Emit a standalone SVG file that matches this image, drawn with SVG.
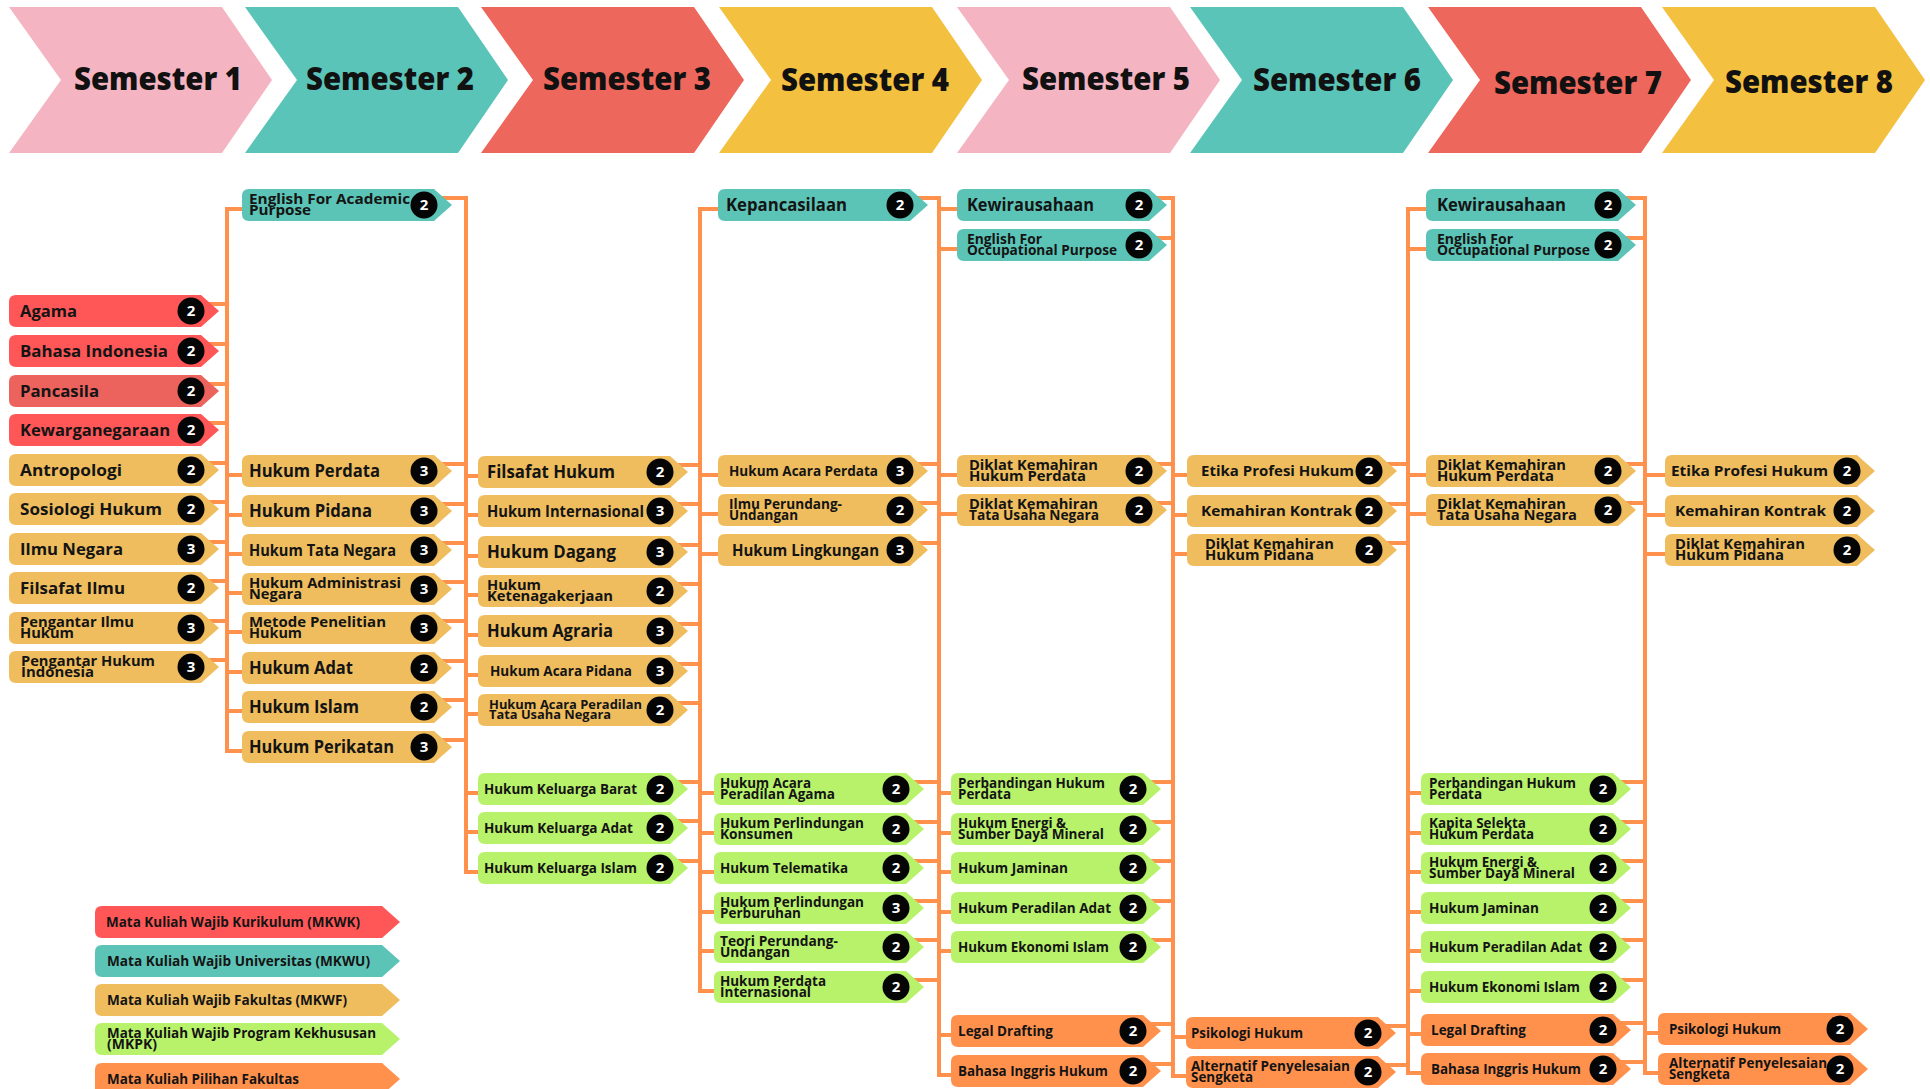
<svg xmlns="http://www.w3.org/2000/svg" width="1930" height="1089" viewBox="0 0 1930 1089">
<style>
.pink{fill:#F4B4C1}.teal{fill:#5BC4B8}.coral{fill:#EE675C}.gold{fill:#F3C03F}
.mkwk{fill:#FF5757}.mkwk2{fill:#EC625D}.mkwu{fill:#5CC4B6}.mkwf{fill:#EFBD5E}.mkpk{fill:#B8F26B}.pil{fill:#FF914D}
.t{font-family:'Open Sans','Liberation Sans',sans-serif;font-weight:700;fill:#141414}
.h{font-family:'Open Sans','Liberation Sans',sans-serif;font-weight:800;font-size:31px;fill:#111}
.bd{fill:#050505}
.bn{font-family:'Open Sans','Liberation Sans',sans-serif;font-weight:700;font-size:15px;fill:#fff;text-anchor:middle}
.c{fill:none;stroke:#FF914D;stroke-width:4;stroke-linecap:square}
</style>
<defs>
<path id="nd" d="M7,0H192L210,16L192,32H7Q0,32 0,25V7Q0,0 7,0Z"/>
<path id="lg" d="M7,0H287L305,16L287,32H7Q0,32 0,25V7Q0,0 7,0Z"/>
</defs>
<rect width="1930" height="1089" fill="#fff"/>

<g id="header">
<g id="sem1"><path class="pink" d="M9,7H222L272,80L222,153H9L61,80Z"/><text class="h" x="74" y="90" textLength="168" lengthAdjust="spacingAndGlyphs">Semester 1</text></g>
<g id="sem2"><path class="teal" d="M245,7H458L508,80L458,153H245L297,80Z"/><text class="h" x="306" y="90" textLength="168" lengthAdjust="spacingAndGlyphs">Semester 2</text></g>
<g id="sem3"><path class="coral" d="M481,7H694L744,80L694,153H481L533,80Z"/><text class="h" x="543" y="90" textLength="168" lengthAdjust="spacingAndGlyphs">Semester 3</text></g>
<g id="sem4"><path class="gold" d="M719,7H932L982,80L932,153H719L771,80Z"/><text class="h" x="781" y="91" textLength="168" lengthAdjust="spacingAndGlyphs">Semester 4</text></g>
<g id="sem5"><path class="pink" d="M957,7H1170L1220,80L1170,153H957L1009,80Z"/><text class="h" x="1022" y="90" textLength="168" lengthAdjust="spacingAndGlyphs">Semester 5</text></g>
<g id="sem6"><path class="teal" d="M1190,7H1403L1453,80L1403,153H1190L1242,80Z"/><text class="h" x="1253" y="91" textLength="168" lengthAdjust="spacingAndGlyphs">Semester 6</text></g>
<g id="sem7"><path class="coral" d="M1428,7H1641L1691,80L1641,153H1428L1480,80Z"/><text class="h" x="1494" y="94" textLength="168" lengthAdjust="spacingAndGlyphs">Semester 7</text></g>
<g id="sem8"><path class="gold" d="M1662,7H1875L1925,80L1875,153H1662L1714,80Z"/><text class="h" x="1725" y="93" textLength="168" lengthAdjust="spacingAndGlyphs">Semester 8</text></g>
</g>

<g id="connectors">
<path class="c" d="M227,209V751 M211,304H227 M211,344H227 M211,384H227 M211,423H227 M211,463H227 M211,502H227 M211,542H227 M211,581H227 M211,621H227 M211,660H227 M227,209H245 M227,475H245 M227,515H245 M227,554H245 M227,593H245 M227,632H245 M227,672H245 M227,711H245 M227,751H245"/>
<path class="c" d="M466,198V872 M444,198H466 M444,464H466 M444,504H466 M444,543H466 M444,582H466 M444,621H466 M444,661H466 M444,700H466 M444,740H466 M466,476H481 M466,515H481 M466,556H481 M466,595H481 M466,635H481 M466,675H481 M466,714H481 M466,793H481 M466,832H481 M466,872H481"/>
<path class="c" d="M700,209V991 M680,465H700 M680,504H700 M680,545H700 M680,584H700 M680,624H700 M680,664H700 M680,703H700 M680,782H700 M680,821H700 M680,861H700 M700,209H721 M700,475H721 M700,514H721 M700,554H721 M700,793H717 M700,833H717 M700,872H717 M700,912H717 M700,951H717 M700,991H717"/>
<path class="c" d="M939,198V1075 M920,198H939 M920,464H939 M920,503H939 M920,543H939 M916,782H939 M916,822H939 M916,861H939 M916,901H939 M916,940H939 M916,980H939 M939,209H960 M939,249H960 M939,475H960 M939,514H960 M939,793H954 M939,833H954 M939,872H954 M939,912H954 M939,951H954 M939,1035H954 M939,1075H954"/>
<path class="c" d="M1173,198V1076 M1159,198H1173 M1159,238H1173 M1159,464H1173 M1159,503H1173 M1153,782H1173 M1153,822H1173 M1153,861H1173 M1153,901H1173 M1153,940H1173 M1153,1024H1173 M1153,1064H1173 M1173,475H1190 M1173,515H1190 M1173,554H1190 M1173,1037H1189 M1173,1076H1189"/>
<path class="c" d="M1408,209V1073 M1389,464H1408 M1389,504H1408 M1389,543H1408 M1388,1026H1408 M1388,1065H1408 M1408,209H1429 M1408,249H1429 M1408,475H1429 M1408,514H1429 M1408,793H1424 M1408,833H1424 M1408,872H1424 M1408,912H1424 M1408,951H1424 M1408,991H1424 M1408,1034H1424 M1408,1073H1424"/>
<path class="c" d="M1645,198V1073 M1628,198H1645 M1628,238H1645 M1628,464H1645 M1628,503H1645 M1623,782H1645 M1623,822H1645 M1623,861H1645 M1623,901H1645 M1623,940H1645 M1623,980H1645 M1623,1023H1645 M1623,1062H1645 M1645,475H1668 M1645,515H1668 M1645,554H1668 M1645,1033H1661 M1645,1073H1661"/>
</g>

<g id="semester1">
<g id="s1-agama"><use href="#nd" x="9" y="295" class="mkwk"/><text class="t" x="20" y="317" font-size="16.5" textLength="57" lengthAdjust="spacingAndGlyphs">Agama</text><circle class="bd" cx="191" cy="311" r="13.5"/><text class="bn" x="191" y="316">2</text></g>
<g id="s1-bahasa-indonesia"><use href="#nd" x="9" y="335" class="mkwk"/><text class="t" x="20" y="357" font-size="16.5" textLength="148" lengthAdjust="spacingAndGlyphs">Bahasa Indonesia</text><circle class="bd" cx="191" cy="351" r="13.5"/><text class="bn" x="191" y="356">2</text></g>
<g id="s1-pancasila"><use href="#nd" x="9" y="375" class="mkwk2"/><text class="t" x="20" y="397" font-size="16.5" textLength="79" lengthAdjust="spacingAndGlyphs">Pancasila</text><circle class="bd" cx="191" cy="391" r="13.5"/><text class="bn" x="191" y="396">2</text></g>
<g id="s1-kewarganegaraan"><use href="#nd" x="9" y="414" class="mkwk"/><text class="t" x="20" y="436" font-size="16.5" textLength="150" lengthAdjust="spacingAndGlyphs">Kewarganegaraan</text><circle class="bd" cx="191" cy="430" r="13.5"/><text class="bn" x="191" y="435">2</text></g>
<g id="s1-antropologi"><use href="#nd" x="9" y="454" class="mkwf"/><text class="t" x="20" y="476" font-size="16.5" textLength="102" lengthAdjust="spacingAndGlyphs">Antropologi</text><circle class="bd" cx="191" cy="470" r="13.5"/><text class="bn" x="191" y="475">2</text></g>
<g id="s1-sosiologi-hukum"><use href="#nd" x="9" y="493" class="mkwf"/><text class="t" x="20" y="515" font-size="16.5" textLength="142" lengthAdjust="spacingAndGlyphs">Sosiologi Hukum</text><circle class="bd" cx="191" cy="509" r="13.5"/><text class="bn" x="191" y="514">2</text></g>
<g id="s1-ilmu-negara"><use href="#nd" x="9" y="533" class="mkwf"/><text class="t" x="20" y="555" font-size="16.5" textLength="103" lengthAdjust="spacingAndGlyphs">Ilmu Negara</text><circle class="bd" cx="191" cy="549" r="13.5"/><text class="bn" x="191" y="554">3</text></g>
<g id="s1-filsafat-ilmu"><use href="#nd" x="9" y="572" class="mkwf"/><text class="t" x="20" y="594" font-size="16.5" textLength="105" lengthAdjust="spacingAndGlyphs">Filsafat Ilmu</text><circle class="bd" cx="191" cy="588" r="13.5"/><text class="bn" x="191" y="593">2</text></g>
<g id="s1-pengantar-ilmu-hukum"><use href="#nd" x="9" y="612" class="mkwf"/><text class="t" font-size="15"><tspan x="20" y="627" textLength="114" lengthAdjust="spacingAndGlyphs">Pengantar Ilmu</tspan><tspan x="20" y="638" textLength="54" lengthAdjust="spacingAndGlyphs">Hukum</tspan></text><circle class="bd" cx="191" cy="628" r="13.5"/><text class="bn" x="191" y="633">3</text></g>
<g id="s1-pengantar-hukum-indonesia"><use href="#nd" x="9" y="651" class="mkwf"/><text class="t" font-size="15"><tspan x="21" y="666" textLength="134" lengthAdjust="spacingAndGlyphs">Pengantar Hukum</tspan><tspan x="21" y="677" textLength="73" lengthAdjust="spacingAndGlyphs">Indonesia</tspan></text><circle class="bd" cx="191" cy="667" r="13.5"/><text class="bn" x="191" y="672">3</text></g>
</g>

<g id="semester2">
<g id="s2-english-academic"><use href="#nd" x="242" y="189" class="mkwu"/><text class="t" font-size="15"><tspan x="249" y="204" textLength="161" lengthAdjust="spacingAndGlyphs">English For Academic</tspan><tspan x="249" y="215" textLength="62" lengthAdjust="spacingAndGlyphs">Purpose</tspan></text><circle class="bd" cx="424" cy="205" r="13.5"/><text class="bn" x="424" y="210">2</text></g>
<g id="s2-hukum-perdata"><use href="#nd" x="242" y="455" class="mkwf"/><text class="t" x="249" y="477" font-size="17" textLength="131" lengthAdjust="spacingAndGlyphs">Hukum Perdata</text><circle class="bd" cx="424" cy="471" r="13.5"/><text class="bn" x="424" y="476">3</text></g>
<g id="s2-hukum-pidana"><use href="#nd" x="242" y="495" class="mkwf"/><text class="t" x="249" y="517" font-size="17" textLength="123" lengthAdjust="spacingAndGlyphs">Hukum Pidana</text><circle class="bd" cx="424" cy="511" r="13.5"/><text class="bn" x="424" y="516">3</text></g>
<g id="s2-hukum-tata-negara"><use href="#nd" x="242" y="534" class="mkwf"/><text class="t" x="249" y="556" font-size="15.5" textLength="147" lengthAdjust="spacingAndGlyphs">Hukum Tata Negara</text><circle class="bd" cx="424" cy="550" r="13.5"/><text class="bn" x="424" y="555">3</text></g>
<g id="s2-hukum-administrasi-negara"><use href="#nd" x="242" y="573" class="mkwf"/><text class="t" font-size="15"><tspan x="249" y="588" textLength="152" lengthAdjust="spacingAndGlyphs">Hukum Administrasi</tspan><tspan x="249" y="599" textLength="53" lengthAdjust="spacingAndGlyphs">Negara</tspan></text><circle class="bd" cx="424" cy="589" r="13.5"/><text class="bn" x="424" y="594">3</text></g>
<g id="s2-metode-penelitian-hukum"><use href="#nd" x="242" y="612" class="mkwf"/><text class="t" font-size="15"><tspan x="249" y="627" textLength="137" lengthAdjust="spacingAndGlyphs">Metode Penelitian</tspan><tspan x="249" y="638" textLength="53" lengthAdjust="spacingAndGlyphs">Hukum</tspan></text><circle class="bd" cx="424" cy="628" r="13.5"/><text class="bn" x="424" y="633">3</text></g>
<g id="s2-hukum-adat"><use href="#nd" x="242" y="652" class="mkwf"/><text class="t" x="249" y="674" font-size="17" textLength="104" lengthAdjust="spacingAndGlyphs">Hukum Adat</text><circle class="bd" cx="424" cy="668" r="13.5"/><text class="bn" x="424" y="673">2</text></g>
<g id="s2-hukum-islam"><use href="#nd" x="242" y="691" class="mkwf"/><text class="t" x="249" y="713" font-size="17" textLength="110" lengthAdjust="spacingAndGlyphs">Hukum Islam</text><circle class="bd" cx="424" cy="707" r="13.5"/><text class="bn" x="424" y="712">2</text></g>
<g id="s2-hukum-perikatan"><use href="#nd" x="242" y="731" class="mkwf"/><text class="t" x="249" y="753" font-size="17" textLength="145" lengthAdjust="spacingAndGlyphs">Hukum Perikatan</text><circle class="bd" cx="424" cy="747" r="13.5"/><text class="bn" x="424" y="752">3</text></g>
</g>

<g id="semester3">
<g id="s3-filsafat-hukum"><use href="#nd" x="478" y="456" class="mkwf"/><text class="t" x="487" y="478" font-size="17" textLength="128" lengthAdjust="spacingAndGlyphs">Filsafat Hukum</text><circle class="bd" cx="660" cy="472" r="13.5"/><text class="bn" x="660" y="477">2</text></g>
<g id="s3-hukum-internasional"><use href="#nd" x="478" y="495" class="mkwf"/><text class="t" x="487" y="517" font-size="15.5" textLength="157" lengthAdjust="spacingAndGlyphs">Hukum Internasional</text><circle class="bd" cx="660" cy="511" r="13.5"/><text class="bn" x="660" y="516">3</text></g>
<g id="s3-hukum-dagang"><use href="#nd" x="478" y="536" class="mkwf"/><text class="t" x="487" y="558" font-size="17" textLength="129" lengthAdjust="spacingAndGlyphs">Hukum Dagang</text><circle class="bd" cx="660" cy="552" r="13.5"/><text class="bn" x="660" y="557">3</text></g>
<g id="s3-hukum-ketenagakerjaan"><use href="#nd" x="478" y="575" class="mkwf"/><text class="t" font-size="15"><tspan x="487" y="590" textLength="54" lengthAdjust="spacingAndGlyphs">Hukum</tspan><tspan x="487" y="601" textLength="126" lengthAdjust="spacingAndGlyphs">Ketenagakerjaan</tspan></text><circle class="bd" cx="660" cy="591" r="13.5"/><text class="bn" x="660" y="596">2</text></g>
<g id="s3-hukum-agraria"><use href="#nd" x="478" y="615" class="mkwf"/><text class="t" x="487" y="637" font-size="17" textLength="126" lengthAdjust="spacingAndGlyphs">Hukum Agraria</text><circle class="bd" cx="660" cy="631" r="13.5"/><text class="bn" x="660" y="636">3</text></g>
<g id="s3-hukum-acara-pidana"><use href="#nd" x="478" y="655" class="mkwf"/><text class="t" x="490" y="676" font-size="14" textLength="142" lengthAdjust="spacingAndGlyphs">Hukum Acara Pidana</text><circle class="bd" cx="660" cy="671" r="13.5"/><text class="bn" x="660" y="676">3</text></g>
<g id="s3-hukum-acara-ptun"><use href="#nd" x="478" y="694" class="mkwf"/><text class="t" font-size="13"><tspan x="489" y="709" textLength="153" lengthAdjust="spacingAndGlyphs">Hukum Acara Peradilan</tspan><tspan x="489" y="719" textLength="122" lengthAdjust="spacingAndGlyphs">Tata Usaha Negara</tspan></text><circle class="bd" cx="660" cy="710" r="13.5"/><text class="bn" x="660" y="715">2</text></g>
<g id="s3-hukum-keluarga-barat"><use href="#nd" x="478" y="773" class="mkpk"/><text class="t" x="484" y="794" font-size="14.5" textLength="153" lengthAdjust="spacingAndGlyphs">Hukum Keluarga Barat</text><circle class="bd" cx="660" cy="789" r="13.5"/><text class="bn" x="660" y="794">2</text></g>
<g id="s3-hukum-keluarga-adat"><use href="#nd" x="478" y="812" class="mkpk"/><text class="t" x="484" y="833" font-size="14.5" textLength="149" lengthAdjust="spacingAndGlyphs">Hukum Keluarga Adat</text><circle class="bd" cx="660" cy="828" r="13.5"/><text class="bn" x="660" y="833">2</text></g>
<g id="s3-hukum-keluarga-islam"><use href="#nd" x="478" y="852" class="mkpk"/><text class="t" x="484" y="873" font-size="14.5" textLength="153" lengthAdjust="spacingAndGlyphs">Hukum Keluarga Islam</text><circle class="bd" cx="660" cy="868" r="13.5"/><text class="bn" x="660" y="873">2</text></g>
</g>

<g id="semester4">
<g id="s4-kepancasilaan"><use href="#nd" x="718" y="189" class="mkwu"/><text class="t" x="726" y="211" font-size="17" textLength="121" lengthAdjust="spacingAndGlyphs">Kepancasilaan</text><circle class="bd" cx="900" cy="205" r="13.5"/><text class="bn" x="900" y="210">2</text></g>
<g id="s4-hukum-acara-perdata"><use href="#nd" x="718" y="455" class="mkwf"/><text class="t" x="729" y="476" font-size="14" textLength="149" lengthAdjust="spacingAndGlyphs">Hukum Acara Perdata</text><circle class="bd" cx="900" cy="471" r="13.5"/><text class="bn" x="900" y="476">3</text></g>
<g id="s4-ilmu-perundang-undangan"><use href="#nd" x="718" y="494" class="mkwf"/><text class="t" font-size="14"><tspan x="729" y="509" textLength="113" lengthAdjust="spacingAndGlyphs">Ilmu Perundang-</tspan><tspan x="729" y="520" textLength="69" lengthAdjust="spacingAndGlyphs">Undangan</tspan></text><circle class="bd" cx="900" cy="510" r="13.5"/><text class="bn" x="900" y="515">2</text></g>
<g id="s4-hukum-lingkungan"><use href="#nd" x="718" y="534" class="mkwf"/><text class="t" x="732" y="556" font-size="16" textLength="147" lengthAdjust="spacingAndGlyphs">Hukum Lingkungan</text><circle class="bd" cx="900" cy="550" r="13.5"/><text class="bn" x="900" y="555">3</text></g>
<g id="s4-hukum-acara-peradilan-agama"><use href="#nd" x="714" y="773" class="mkpk"/><text class="t" font-size="14"><tspan x="720" y="788" textLength="91" lengthAdjust="spacingAndGlyphs">Hukum Acara</tspan><tspan x="720" y="799" textLength="115" lengthAdjust="spacingAndGlyphs">Peradilan Agama</tspan></text><circle class="bd" cx="896" cy="789" r="13.5"/><text class="bn" x="896" y="794">2</text></g>
<g id="s4-hukum-perlindungan-konsumen"><use href="#nd" x="714" y="813" class="mkpk"/><text class="t" font-size="14"><tspan x="720" y="828" textLength="144" lengthAdjust="spacingAndGlyphs">Hukum Perlindungan</tspan><tspan x="720" y="839" textLength="73" lengthAdjust="spacingAndGlyphs">Konsumen</tspan></text><circle class="bd" cx="896" cy="829" r="13.5"/><text class="bn" x="896" y="834">2</text></g>
<g id="s4-hukum-telematika"><use href="#nd" x="714" y="852" class="mkpk"/><text class="t" x="720" y="873" font-size="14.5" textLength="128" lengthAdjust="spacingAndGlyphs">Hukum Telematika</text><circle class="bd" cx="896" cy="868" r="13.5"/><text class="bn" x="896" y="873">2</text></g>
<g id="s4-hukum-perlindungan-perburuhan"><use href="#nd" x="714" y="892" class="mkpk"/><text class="t" font-size="14"><tspan x="720" y="907" textLength="144" lengthAdjust="spacingAndGlyphs">Hukum Perlindungan</tspan><tspan x="720" y="918" textLength="81" lengthAdjust="spacingAndGlyphs">Perburuhan</tspan></text><circle class="bd" cx="896" cy="908" r="13.5"/><text class="bn" x="896" y="913">3</text></g>
<g id="s4-teori-perundang-undangan"><use href="#nd" x="714" y="931" class="mkpk"/><text class="t" font-size="14"><tspan x="720" y="946" textLength="118" lengthAdjust="spacingAndGlyphs">Teori Perundang-</tspan><tspan x="720" y="957" textLength="70" lengthAdjust="spacingAndGlyphs">Undangan</tspan></text><circle class="bd" cx="896" cy="947" r="13.5"/><text class="bn" x="896" y="952">2</text></g>
<g id="s4-hukum-perdata-internasional"><use href="#nd" x="714" y="971" class="mkpk"/><text class="t" font-size="14"><tspan x="720" y="986" textLength="106" lengthAdjust="spacingAndGlyphs">Hukum Perdata</tspan><tspan x="720" y="997" textLength="91" lengthAdjust="spacingAndGlyphs">Internasional</tspan></text><circle class="bd" cx="896" cy="987" r="13.5"/><text class="bn" x="896" y="992">2</text></g>
</g>

<g id="semester5">
<g id="s5-kewirausahaan"><use href="#nd" x="957" y="189" class="mkwu"/><text class="t" x="967" y="211" font-size="17" textLength="127" lengthAdjust="spacingAndGlyphs">Kewirausahaan</text><circle class="bd" cx="1139" cy="205" r="13.5"/><text class="bn" x="1139" y="210">2</text></g>
<g id="s5-english-occupational"><use href="#nd" x="957" y="229" class="mkwu"/><text class="t" font-size="14"><tspan x="967" y="244" textLength="75" lengthAdjust="spacingAndGlyphs">English For</tspan><tspan x="967" y="255" textLength="150" lengthAdjust="spacingAndGlyphs">Occupational Purpose</tspan></text><circle class="bd" cx="1139" cy="245" r="13.5"/><text class="bn" x="1139" y="250">2</text></g>
<g id="s5-diklat-hukum-perdata"><use href="#nd" x="957" y="455" class="mkwf"/><text class="t" font-size="15"><tspan x="969" y="470" textLength="129" lengthAdjust="spacingAndGlyphs">Diklat Kemahiran</tspan><tspan x="969" y="481" textLength="117" lengthAdjust="spacingAndGlyphs">Hukum Perdata</tspan></text><circle class="bd" cx="1139" cy="471" r="13.5"/><text class="bn" x="1139" y="476">2</text></g>
<g id="s5-diklat-tun"><use href="#nd" x="957" y="494" class="mkwf"/><text class="t" font-size="15"><tspan x="969" y="509" textLength="129" lengthAdjust="spacingAndGlyphs">Diklat Kemahiran</tspan><tspan x="969" y="520" textLength="130" lengthAdjust="spacingAndGlyphs">Tata Usaha Negara</tspan></text><circle class="bd" cx="1139" cy="510" r="13.5"/><text class="bn" x="1139" y="515">2</text></g>
<g id="s5-perbandingan-hukum-perdata"><use href="#nd" x="951" y="773" class="mkpk"/><text class="t" font-size="14.5"><tspan x="958" y="788" textLength="147" lengthAdjust="spacingAndGlyphs">Perbandingan Hukum</tspan><tspan x="958" y="799" textLength="53" lengthAdjust="spacingAndGlyphs">Perdata</tspan></text><circle class="bd" cx="1133" cy="789" r="13.5"/><text class="bn" x="1133" y="794">2</text></g>
<g id="s5-hukum-energi"><use href="#nd" x="951" y="813" class="mkpk"/><text class="t" font-size="14.5"><tspan x="958" y="828" textLength="108" lengthAdjust="spacingAndGlyphs">Hukum Energi &amp;</tspan><tspan x="958" y="839" textLength="146" lengthAdjust="spacingAndGlyphs">Sumber Daya Mineral</tspan></text><circle class="bd" cx="1133" cy="829" r="13.5"/><text class="bn" x="1133" y="834">2</text></g>
<g id="s5-hukum-jaminan"><use href="#nd" x="951" y="852" class="mkpk"/><text class="t" x="958" y="873" font-size="14.5" textLength="110" lengthAdjust="spacingAndGlyphs">Hukum Jaminan</text><circle class="bd" cx="1133" cy="868" r="13.5"/><text class="bn" x="1133" y="873">2</text></g>
<g id="s5-hukum-peradilan-adat"><use href="#nd" x="951" y="892" class="mkpk"/><text class="t" x="958" y="913" font-size="14.5" textLength="153" lengthAdjust="spacingAndGlyphs">Hukum Peradilan Adat</text><circle class="bd" cx="1133" cy="908" r="13.5"/><text class="bn" x="1133" y="913">2</text></g>
<g id="s5-hukum-ekonomi-islam"><use href="#nd" x="951" y="931" class="mkpk"/><text class="t" x="958" y="952" font-size="14.5" textLength="151" lengthAdjust="spacingAndGlyphs">Hukum Ekonomi Islam</text><circle class="bd" cx="1133" cy="947" r="13.5"/><text class="bn" x="1133" y="952">2</text></g>
<g id="s5-legal-drafting"><use href="#nd" x="951" y="1015" class="pil"/><text class="t" x="958" y="1036" font-size="14.5" textLength="95" lengthAdjust="spacingAndGlyphs">Legal Drafting</text><circle class="bd" cx="1133" cy="1031" r="13.5"/><text class="bn" x="1133" y="1036">2</text></g>
<g id="s5-bahasa-inggris-hukum"><use href="#nd" x="951" y="1055" class="pil"/><text class="t" x="958" y="1076" font-size="14.5" textLength="150" lengthAdjust="spacingAndGlyphs">Bahasa Inggris Hukum</text><circle class="bd" cx="1133" cy="1071" r="13.5"/><text class="bn" x="1133" y="1076">2</text></g>
</g>

<g id="semester6">
<g id="s6-etika-profesi-hukum"><use href="#nd" x="1187" y="455" class="mkwf"/><text class="t" x="1201" y="476" font-size="15" textLength="153" lengthAdjust="spacingAndGlyphs">Etika Profesi Hukum</text><circle class="bd" cx="1369" cy="471" r="13.5"/><text class="bn" x="1369" y="476">2</text></g>
<g id="s6-kemahiran-kontrak"><use href="#nd" x="1187" y="495" class="mkwf"/><text class="t" x="1201" y="516" font-size="15" textLength="151" lengthAdjust="spacingAndGlyphs">Kemahiran Kontrak</text><circle class="bd" cx="1369" cy="511" r="13.5"/><text class="bn" x="1369" y="516">2</text></g>
<g id="s6-diklat-hukum-pidana"><use href="#nd" x="1187" y="534" class="mkwf"/><text class="t" font-size="15"><tspan x="1205" y="549" textLength="129" lengthAdjust="spacingAndGlyphs">Diklat Kemahiran</tspan><tspan x="1205" y="560" textLength="109" lengthAdjust="spacingAndGlyphs">Hukum Pidana</tspan></text><circle class="bd" cx="1369" cy="550" r="13.5"/><text class="bn" x="1369" y="555">2</text></g>
<g id="s6-psikologi-hukum"><use href="#nd" x="1186" y="1017" class="pil"/><text class="t" x="1191" y="1038" font-size="14" textLength="112" lengthAdjust="spacingAndGlyphs">Psikologi Hukum</text><circle class="bd" cx="1368" cy="1033" r="13.5"/><text class="bn" x="1368" y="1038">2</text></g>
<g id="s6-alternatif-penyelesaian-sengketa"><use href="#nd" x="1186" y="1056" class="pil"/><text class="t" font-size="14.5"><tspan x="1191" y="1071" textLength="159" lengthAdjust="spacingAndGlyphs">Alternatif Penyelesaian</tspan><tspan x="1191" y="1082" textLength="62" lengthAdjust="spacingAndGlyphs">Sengketa</tspan></text><circle class="bd" cx="1368" cy="1072" r="13.5"/><text class="bn" x="1368" y="1077">2</text></g>
</g>

<g id="semester7">
<g id="s7-kewirausahaan"><use href="#nd" x="1426" y="189" class="mkwu"/><text class="t" x="1437" y="211" font-size="17" textLength="129" lengthAdjust="spacingAndGlyphs">Kewirausahaan</text><circle class="bd" cx="1608" cy="205" r="13.5"/><text class="bn" x="1608" y="210">2</text></g>
<g id="s7-english-occupational"><use href="#nd" x="1426" y="229" class="mkwu"/><text class="t" font-size="14"><tspan x="1437" y="244" textLength="76" lengthAdjust="spacingAndGlyphs">English For</tspan><tspan x="1437" y="255" textLength="153" lengthAdjust="spacingAndGlyphs">Occupational Purpose</tspan></text><circle class="bd" cx="1608" cy="245" r="13.5"/><text class="bn" x="1608" y="250">2</text></g>
<g id="s7-diklat-hukum-perdata"><use href="#nd" x="1426" y="455" class="mkwf"/><text class="t" font-size="15"><tspan x="1437" y="470" textLength="129" lengthAdjust="spacingAndGlyphs">Diklat Kemahiran</tspan><tspan x="1437" y="481" textLength="117" lengthAdjust="spacingAndGlyphs">Hukum Perdata</tspan></text><circle class="bd" cx="1608" cy="471" r="13.5"/><text class="bn" x="1608" y="476">2</text></g>
<g id="s7-diklat-tun"><use href="#nd" x="1426" y="494" class="mkwf"/><text class="t" font-size="15"><tspan x="1437" y="509" textLength="129" lengthAdjust="spacingAndGlyphs">Diklat Kemahiran</tspan><tspan x="1437" y="520" textLength="140" lengthAdjust="spacingAndGlyphs">Tata Usaha Negara</tspan></text><circle class="bd" cx="1608" cy="510" r="13.5"/><text class="bn" x="1608" y="515">2</text></g>
<g id="s7-perbandingan-hukum-perdata"><use href="#nd" x="1421" y="773" class="mkpk"/><text class="t" font-size="14.5"><tspan x="1429" y="788" textLength="147" lengthAdjust="spacingAndGlyphs">Perbandingan Hukum</tspan><tspan x="1429" y="799" textLength="53" lengthAdjust="spacingAndGlyphs">Perdata</tspan></text><circle class="bd" cx="1603" cy="789" r="13.5"/><text class="bn" x="1603" y="794">2</text></g>
<g id="s7-kapita-selekta"><use href="#nd" x="1421" y="813" class="mkpk"/><text class="t" font-size="14.5"><tspan x="1429" y="828" textLength="97" lengthAdjust="spacingAndGlyphs">Kapita Selekta</tspan><tspan x="1429" y="839" textLength="105" lengthAdjust="spacingAndGlyphs">Hukum Perdata</tspan></text><circle class="bd" cx="1603" cy="829" r="13.5"/><text class="bn" x="1603" y="834">2</text></g>
<g id="s7-hukum-energi"><use href="#nd" x="1421" y="852" class="mkpk"/><text class="t" font-size="14.5"><tspan x="1429" y="867" textLength="108" lengthAdjust="spacingAndGlyphs">Hukum Energi &amp;</tspan><tspan x="1429" y="878" textLength="146" lengthAdjust="spacingAndGlyphs">Sumber Daya Mineral</tspan></text><circle class="bd" cx="1603" cy="868" r="13.5"/><text class="bn" x="1603" y="873">2</text></g>
<g id="s7-hukum-jaminan"><use href="#nd" x="1421" y="892" class="mkpk"/><text class="t" x="1429" y="913" font-size="14.5" textLength="110" lengthAdjust="spacingAndGlyphs">Hukum Jaminan</text><circle class="bd" cx="1603" cy="908" r="13.5"/><text class="bn" x="1603" y="913">2</text></g>
<g id="s7-hukum-peradilan-adat"><use href="#nd" x="1421" y="931" class="mkpk"/><text class="t" x="1429" y="952" font-size="14.5" textLength="153" lengthAdjust="spacingAndGlyphs">Hukum Peradilan Adat</text><circle class="bd" cx="1603" cy="947" r="13.5"/><text class="bn" x="1603" y="952">2</text></g>
<g id="s7-hukum-ekonomi-islam"><use href="#nd" x="1421" y="971" class="mkpk"/><text class="t" x="1429" y="992" font-size="14.5" textLength="151" lengthAdjust="spacingAndGlyphs">Hukum Ekonomi Islam</text><circle class="bd" cx="1603" cy="987" r="13.5"/><text class="bn" x="1603" y="992">2</text></g>
<g id="s7-legal-drafting"><use href="#nd" x="1421" y="1014" class="pil"/><text class="t" x="1431" y="1035" font-size="14.5" textLength="95" lengthAdjust="spacingAndGlyphs">Legal Drafting</text><circle class="bd" cx="1603" cy="1030" r="13.5"/><text class="bn" x="1603" y="1035">2</text></g>
<g id="s7-bahasa-inggris-hukum"><use href="#nd" x="1421" y="1053" class="pil"/><text class="t" x="1431" y="1074" font-size="14.5" textLength="150" lengthAdjust="spacingAndGlyphs">Bahasa Inggris Hukum</text><circle class="bd" cx="1603" cy="1069" r="13.5"/><text class="bn" x="1603" y="1074">2</text></g>
</g>

<g id="semester8">
<g id="s8-etika-profesi-hukum"><use href="#nd" x="1665" y="455" class="mkwf"/><text class="t" x="1671" y="476" font-size="15" textLength="157" lengthAdjust="spacingAndGlyphs">Etika Profesi Hukum</text><circle class="bd" cx="1847" cy="471" r="13.5"/><text class="bn" x="1847" y="476">2</text></g>
<g id="s8-kemahiran-kontrak"><use href="#nd" x="1665" y="495" class="mkwf"/><text class="t" x="1675" y="516" font-size="15" textLength="151" lengthAdjust="spacingAndGlyphs">Kemahiran Kontrak</text><circle class="bd" cx="1847" cy="511" r="13.5"/><text class="bn" x="1847" y="516">2</text></g>
<g id="s8-diklat-hukum-pidana"><use href="#nd" x="1665" y="534" class="mkwf"/><text class="t" font-size="15"><tspan x="1675" y="549" textLength="130" lengthAdjust="spacingAndGlyphs">Diklat Kemahiran</tspan><tspan x="1675" y="560" textLength="109" lengthAdjust="spacingAndGlyphs">Hukum Pidana</tspan></text><circle class="bd" cx="1847" cy="550" r="13.5"/><text class="bn" x="1847" y="555">2</text></g>
<g id="s8-psikologi-hukum"><use href="#nd" x="1658" y="1013" class="pil"/><text class="t" x="1669" y="1034" font-size="14" textLength="112" lengthAdjust="spacingAndGlyphs">Psikologi Hukum</text><circle class="bd" cx="1840" cy="1029" r="13.5"/><text class="bn" x="1840" y="1034">2</text></g>
<g id="s8-alternatif-penyelesaian-sengketa"><use href="#nd" x="1658" y="1053" class="pil"/><text class="t" font-size="14.5"><tspan x="1669" y="1068" textLength="158" lengthAdjust="spacingAndGlyphs">Alternatif Penyelesaian</tspan><tspan x="1669" y="1079" textLength="61" lengthAdjust="spacingAndGlyphs">Sengketa</tspan></text><circle class="bd" cx="1840" cy="1069" r="13.5"/><text class="bn" x="1840" y="1074">2</text></g>
</g>

<g id="legend">
<g id="lg-mkwk"><use href="#lg" x="95" y="906" class="mkwk"/><text class="t" x="106" y="927" font-size="14" textLength="254" lengthAdjust="spacingAndGlyphs">Mata Kuliah Wajib Kurikulum (MKWK)</text></g>
<g id="lg-mkwu"><use href="#lg" x="95" y="945" class="mkwu"/><text class="t" x="107" y="966" font-size="14" textLength="263" lengthAdjust="spacingAndGlyphs">Mata Kuliah Wajib Universitas (MKWU)</text></g>
<g id="lg-mkwf"><use href="#lg" x="95" y="984" class="mkwf"/><text class="t" x="107" y="1005" font-size="14" textLength="240" lengthAdjust="spacingAndGlyphs">Mata Kuliah Wajib Fakultas (MKWF)</text></g>
<g id="lg-mkpk"><use href="#lg" x="95" y="1023" class="mkpk"/><text class="t" font-size="14"><tspan x="107" y="1038" textLength="269" lengthAdjust="spacingAndGlyphs">Mata Kuliah Wajib Program Kekhususan</tspan><tspan x="107" y="1049" textLength="50" lengthAdjust="spacingAndGlyphs">(MKPK)</tspan></text></g>
<g id="lg-pilihan"><use href="#lg" x="95" y="1063" class="pil"/><text class="t" x="107" y="1084" font-size="14" textLength="192" lengthAdjust="spacingAndGlyphs">Mata Kuliah Pilihan Fakultas</text></g>
</g>
</svg>
